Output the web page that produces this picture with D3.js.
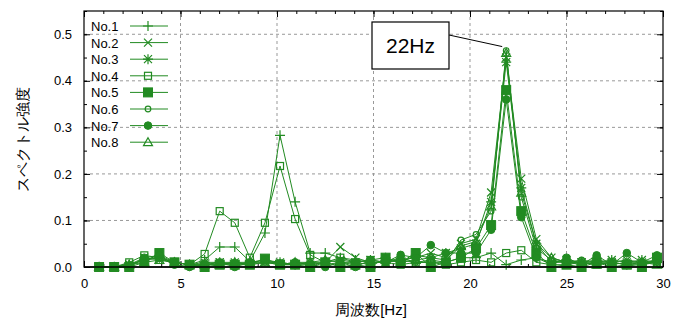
<!DOCTYPE html>
<meta charset="utf-8">
<style>
body { margin: 0; background: #fff; }
text { font-family: "Liberation Sans", Arial, sans-serif; fill: #000; }
.grid line { stroke: #999; stroke-dasharray: 3,3; }
</style>
<body>
<script src="https://cdn.jsdelivr.net/npm/d3@7"></script>
<script>

// frequency bins (Hz), step 0.78125
var freqStep = 0.78125;

// series values, one per bin
var no1 = [0.000,0.000,0.005,0.015,0.020,0.010,0.005,0.015,0.043,0.043,0.012,0.073,0.283,0.140,0.030,0.030,0.020,0.015,0.010,0.010,
           0.015,0.010,0.010,0.010,0.020,0.020,0.030,0.005,0.015,0.020,0.010,0.010,0.005,0.010,0.010,0.005,0.010,0.010];
var no2 = [0.000,0.000,0.005,0.020,0.015,0.010,0.005,0.005,0.010,0.010,0.005,0.010,0.005,0.005,0.010,0.010,0.043,0.020,0.010,0.010,
           0.015,0.020,0.030,0.020,0.050,0.060,0.160,0.450,0.190,0.060,0.020,0.010,0.010,0.015,0.010,0.015,0.010,0.015];
var no3 = [0.000,0.000,0.005,0.015,0.025,0.010,0.005,0.010,0.010,0.005,0.010,0.015,0.010,0.005,0.005,0.010,0.015,0.010,0.015,0.020,
           0.010,0.025,0.020,0.030,0.040,0.050,0.140,0.440,0.170,0.050,0.010,0.015,0.010,0.010,0.015,0.010,0.015,0.010];
var no4 = [0.000,0.000,0.010,0.025,0.020,0.010,0.005,0.028,0.120,0.095,0.020,0.095,0.217,0.103,0.026,0.010,0.020,0.010,0.015,0.010,
           0.005,0.010,0.010,0.005,0.010,0.015,0.010,0.030,0.036,0.010,0.005,0.005,0.010,0.005,0.010,0.005,0.005,0.010];
var no5 = [0.000,0.000,0.000,0.010,0.030,0.010,0.005,0.000,0.005,0.005,0.005,0.018,0.005,0.005,0.000,0.010,0.000,0.005,0.000,0.020,
           0.010,0.030,0.000,0.010,0.020,0.040,0.090,0.380,0.120,0.030,0.000,0.005,0.000,0.010,0.000,0.005,0.000,0.020];
var no6 = [0.000,0.000,0.005,0.015,0.020,0.005,0.000,0.005,0.005,0.010,0.005,0.010,0.010,0.005,0.010,0.005,0.010,0.005,0.010,0.010,
           0.020,0.010,0.015,0.010,0.058,0.070,0.120,0.465,0.150,0.040,0.015,0.010,0.015,0.010,0.005,0.010,0.010,0.010];
var no7 = [0.000,0.000,0.000,0.020,0.025,0.005,0.000,0.005,0.010,0.000,0.010,0.015,0.005,0.010,0.005,0.000,0.010,0.000,0.015,0.010,
           0.026,0.020,0.047,0.030,0.030,0.030,0.080,0.360,0.107,0.020,0.005,0.020,0.005,0.025,0.005,0.030,0.010,0.025];
var no8 = [0.000,0.000,0.005,0.010,0.015,0.010,0.005,0.005,0.005,0.010,0.010,0.010,0.005,0.010,0.010,0.015,0.010,0.010,0.005,0.015,
           0.010,0.015,0.020,0.015,0.045,0.055,0.130,0.460,0.160,0.050,0.020,0.010,0.010,0.005,0.010,0.005,0.010,0.005];

var names = ["No.1","No.2","No.3","No.4","No.5","No.6","No.7","No.8"];
var marks = ["plus","cross","star","square","fsquare","circle","fcircle","triangle"];
var allSeries = [no1,no2,no3,no4,no5,no6,no7,no8];

// tick labels
var xTicks = [0,5,10,15,20,25,30];
var yTicks = [0,0.1,0.2,0.3,0.4,0.5];

var color = "#228b22";

var pL = 84, pR = 663, pT = 11, pB = 267;

var x = d3.scaleLinear().domain([0,30]).range([pL, pR]);
var y = d3.scaleLinear().domain([0,0.55]).range([pB, pT]);

var svg = d3.select("body").append("svg")
    .attr("width", 680)
    .attr("height", 320);

// grid
var grid = svg.append("g").attr("class", "grid");
grid.selectAll("line.gx")
    .data(xTicks.filter(function(d) { return d > 0 && d < 30; }))
  .enter().append("line")
    .attr("x1", function(d) { return x(d); }).attr("x2", function(d) { return x(d); })
    .attr("y1", pT).attr("y2", pB);
grid.selectAll("line.gy")
    .data(yTicks.filter(function(d) { return d > 0; }))
  .enter().append("line")
    .attr("y1", function(d) { return y(d); }).attr("y2", function(d) { return y(d); })
    .attr("x1", pL).attr("x2", pR);

// axes with inward ticks
var xMinor = d3.range(0, 31, 1);
var yMinor = d3.range(0, 0.551, 0.05);

function styleText(g) {
  g.select(".domain").remove();
  g.selectAll("text").attr("font-size", 13).attr("fill", "#222")
    .attr("font-family", "Liberation Sans, Arial, sans-serif");
}
function noDomain(g) { g.select(".domain").remove(); }

svg.append("g")
    .attr("transform", "translate(0," + pB + ")")
    .call(d3.axisBottom(x).tickValues(xTicks).tickSize(-6).tickPadding(12).tickFormat(d3.format("d")))
    .call(styleText);
svg.append("g")
    .attr("transform", "translate(0," + pB + ")")
    .call(d3.axisBottom(x).tickValues(xMinor).tickSize(-3).tickFormat(""))
    .call(noDomain);
svg.append("g")
    .attr("transform", "translate(0," + pT + ")")
    .call(d3.axisTop(x).tickValues(xTicks).tickSize(-6).tickFormat(""))
    .call(noDomain);
svg.append("g")
    .attr("transform", "translate(0," + pT + ")")
    .call(d3.axisTop(x).tickValues(xMinor).tickSize(-3).tickFormat(""))
    .call(noDomain);

svg.append("g")
    .attr("transform", "translate(" + pL + ",0)")
    .call(d3.axisLeft(y).tickValues(yTicks).tickSize(-6).tickPadding(12).tickFormat(d3.format(".1f")))
    .call(styleText);
svg.append("g")
    .attr("transform", "translate(" + pL + ",0)")
    .call(d3.axisLeft(y).tickValues(yMinor).tickSize(-3).tickFormat(""))
    .call(noDomain);
svg.append("g")
    .attr("transform", "translate(" + pR + ",0)")
    .call(d3.axisRight(y).tickValues(yTicks).tickSize(-6).tickFormat(""))
    .call(noDomain);
svg.append("g")
    .attr("transform", "translate(" + pR + ",0)")
    .call(d3.axisRight(y).tickValues(yMinor).tickSize(-3).tickFormat(""))
    .call(noDomain);

// border
svg.append("rect")
    .attr("x", pL).attr("y", pT)
    .attr("width", pR - pL).attr("height", pB - pT)
    .attr("fill", "none").attr("stroke", "#000").attr("stroke-width", 1.2);

// marker drawing
function drawMark(g, type, cx, cy) {
  var sw = 1.2;
  if (type == "plus") {
    g.append("path").attr("d", "M" + (cx-5) + "," + cy + "h10M" + cx + "," + (cy-5) + "v10")
      .attr("stroke", color).attr("stroke-width", sw).attr("fill", "none");
  } else if (type == "cross") {
    g.append("path").attr("d", "M" + (cx-4) + "," + (cy-4) + "l8,8M" + (cx-4) + "," + (cy+4) + "l8,-8")
      .attr("stroke", color).attr("stroke-width", sw).attr("fill", "none");
  } else if (type == "star") {
    g.append("path").attr("d", "M" + (cx-5) + "," + cy + "h10M" + cx + "," + (cy-5) + "v10M" +
        (cx-4) + "," + (cy-4) + "l8,8M" + (cx-4) + "," + (cy+4) + "l8,-8")
      .attr("stroke", color).attr("stroke-width", sw).attr("fill", "none");
  } else if (type == "square") {
    g.append("rect").attr("x", cx-3.5).attr("y", cy-3.5).attr("width", 7).attr("height", 7)
      .attr("stroke", color).attr("stroke-width", sw).attr("fill", "none");
  } else if (type == "fsquare") {
    g.append("rect").attr("x", cx-4.5).attr("y", cy-4.5).attr("width", 9).attr("height", 9)
      .attr("stroke", color).attr("fill", color);
  } else if (type == "circle") {
    g.append("circle").attr("cx", cx).attr("cy", cy).attr("r", 2.8)
      .attr("stroke", color).attr("stroke-width", sw).attr("fill", "none");
  } else if (type == "fcircle") {
    g.append("circle").attr("cx", cx).attr("cy", cy).attr("r", 3.8)
      .attr("stroke", color).attr("fill", color);
  } else if (type == "triangle") {
    g.append("path").attr("d", "M" + cx + "," + (cy-4.5) + "L" + (cx+4.5) + "," + (cy+3.5) + "L" + (cx-4.5) + "," + (cy+3.5) + "Z")
      .attr("stroke", color).attr("stroke-width", sw).attr("fill", "none");
  }
}

var line = d3.line()
    .x(function(d, i) { return x((i + 1) * freqStep); })
    .y(function(d) { return y(d); });

var plot = svg.append("g");
allSeries.forEach(function(vals, si) {
  var g = plot.append("g");
  g.append("path")
      .datum(vals)
      .attr("d", line)
      .attr("fill", "none")
      .attr("stroke", color)
      .attr("stroke-width", 1);
  vals.forEach(function(v, i) {
    drawMark(g, marks[si], x((i + 1) * freqStep), y(v));
  });
});

// zero line on top of marks
svg.append("line")
    .attr("x1", pL).attr("x2", pR)
    .attr("y1", pB).attr("y2", pB)
    .attr("stroke", "#000").attr("stroke-width", 1.5);

// legend
var legend = svg.append("g");
names.forEach(function(n, i) {
  var ly = 26 + i * 16.6;
  legend.append("text")
      .attr("x", 91).attr("y", ly + 5)
      .attr("font-size", 13)
      .attr("fill", "#222")
      .text(n);
  legend.append("line")
      .attr("x1", 130).attr("x2", 168)
      .attr("y1", ly).attr("y2", ly)
      .attr("stroke", color);
  drawMark(legend, marks[i], 148, ly);
});

// annotation
svg.append("line")
    .attr("x1", 449).attr("y1", 35)
    .attr("x2", x(28 * freqStep) - 4).attr("y2", y(0.465) - 4)
    .attr("stroke", "#000");
svg.append("rect")
    .attr("x", 372).attr("y", 22)
    .attr("width", 77).attr("height", 47)
    .attr("fill", "#fff").attr("stroke", "#000").attr("stroke-width", 1.2);
svg.append("text")
    .attr("x", 410.5).attr("y", 53)
    .attr("text-anchor", "middle")
    .attr("font-size", 21)
    .attr("font-family", "DejaVu Sans Condensed, Liberation Sans Narrow, sans-serif")
    .text("22Hz");

// axis titles
svg.append("text")
    .attr("x", 371).attr("y", 315)
    .attr("text-anchor", "middle")
    .attr("font-size", 15)
    .attr("font-family", "Noto Sans CJK JP, sans-serif")
    .text("周波数[Hz]");
svg.append("text")
    .attr("transform", "translate(28," + ((pT + pB) / 2) + ") rotate(-90)")
    .attr("text-anchor", "middle")
    .attr("font-size", 15)
    .attr("font-family", "Noto Sans CJK JP, sans-serif")
    .text("スペクトル強度");

</script>
</body>
